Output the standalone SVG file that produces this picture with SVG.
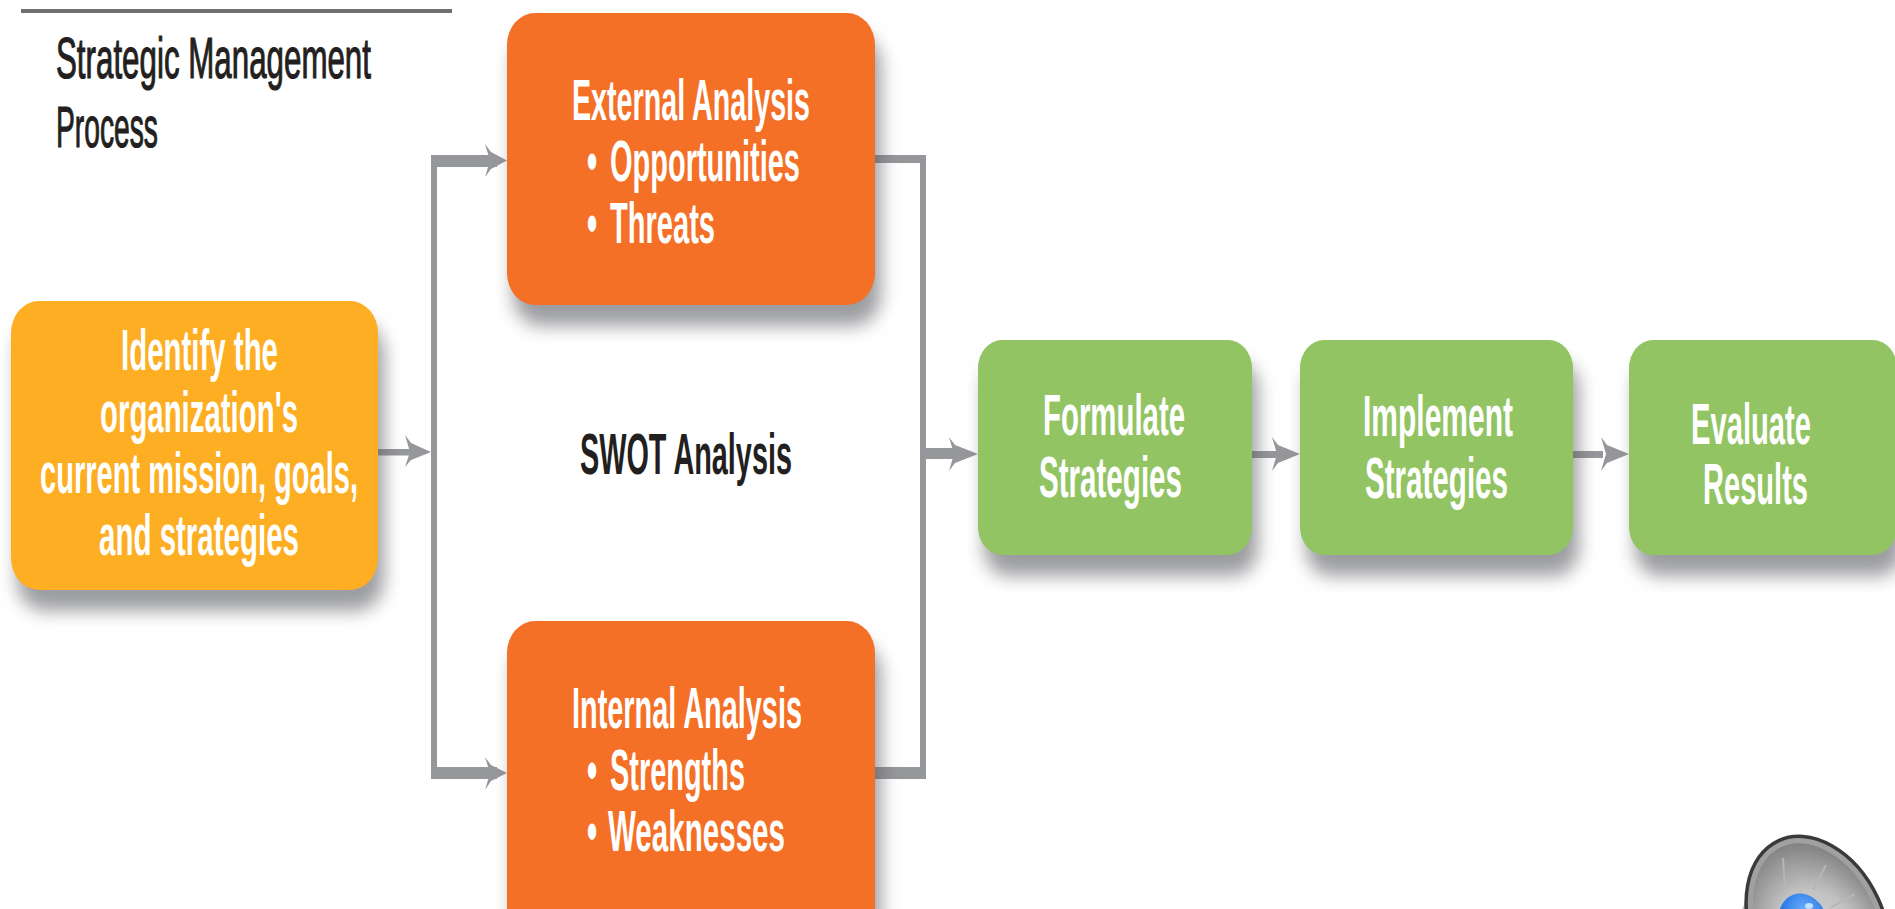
<svg xmlns="http://www.w3.org/2000/svg" width="1895" height="909" viewBox="0 0 1895 909">
<style>
text{font-family:"Liberation Sans",Arial,sans-serif;font-size:58px;transform:scale(.5,1)}
.w{fill:#fff;font-weight:700}
.k{fill:#231f20}
.t{stroke:#231f20;stroke-width:1.200px}
.c{fill:#96979b}
.o{fill:#f47027}
.y{fill:#fdae23}
.g{fill:#92c464}
.b{filter:url(#sh)}
</style>
<defs>
<filter id="sh" x="-10%" y="-10%" width="125%" height="140%" color-interpolation-filters="sRGB">
<feGaussianBlur in="SourceAlpha" stdDeviation="9" result="a"/>
<feOffset in="a" dx="6" dy="21" result="b"/>
<feFlood flood-color="#55565b" flood-opacity=".58"/>
<feComposite in2="b" operator="in" result="s"/>
<feMerge><feMergeNode in="s"/><feMergeNode in="SourceGraphic"/></feMerge>
</filter>
<radialGradient id="cone" cx=".45" cy=".62" r=".62"><stop offset="0" stop-color="#dedede"/><stop offset=".55" stop-color="#c2c2c2"/><stop offset="1" stop-color="#808080"/></radialGradient>
<radialGradient id="dome" cx=".6" cy=".35" r=".7"><stop offset="0" stop-color="#6fb0ff"/><stop offset=".6" stop-color="#2f7fe8"/><stop offset="1" stop-color="#1c5fc4"/></radialGradient>
</defs>
<rect width="1895" height="909" fill="#fff"/>
<rect x="21" y="9" width="431" height="4" fill="#707070"/>
<g id="title">
<text class="k t" x="112" y="78" textLength="630" lengthAdjust="spacingAndGlyphs">Strategic Management</text>
<text class="k t" x="112" y="147" textLength="204" lengthAdjust="spacingAndGlyphs">Process</text>
</g>
<g id="connectors" class="c">
<path d="M431 155H497V167H437V767H497V779H431Z"/>
<path d="M507 160.500L491 152L485 144L490 160.500L485 177L491 169Z"/>
<path d="M507 773L491 765L485 757L490 773L485 790L491 781Z"/>
<rect x="378" y="449" width="35" height="6.500"/>
<path d="M431 452L411 443L405 435L410 452L405 467L411 460Z"/>
<path d="M875 155H926V779H875V767H920V163H875Z"/>
<rect x="926" y="448" width="32" height="11"/>
<path d="M978 454L955 445L949 437L954 454L949 471L955 463Z"/>
<rect x="1252" y="451" width="30" height="7"/>
<path d="M1300 454L1278 445L1272 437L1277 454L1272 471L1278 463Z"/>
<rect x="1573" y="451" width="30" height="7"/>
<path d="M1629 454L1607 445L1601 437L1606 454L1601 471L1607 463Z"/>
</g>
<g id="identify">
<rect class="y b" x="11" y="301" width="367" height="289" rx="28" ry="32"/>
<text class="w" x="242" y="370" textLength="314" lengthAdjust="spacingAndGlyphs">Identify the</text>
<text class="w" x="200" y="432" textLength="396" lengthAdjust="spacingAndGlyphs">organization's</text>
<text class="w" x="80" y="493" textLength="636" lengthAdjust="spacingAndGlyphs">current mission, goals,</text>
<text class="w" x="198" y="555" textLength="400" lengthAdjust="spacingAndGlyphs">and strategies</text>
</g>
<g id="external">
<rect class="o b" x="507" y="13" width="368" height="292" rx="28" ry="32"/>
<text class="w" x="1144" y="120" textLength="476" lengthAdjust="spacingAndGlyphs">External Analysis</text>
<text class="w" y="181"><tspan x="1174">• </tspan><tspan x="1220" textLength="380" lengthAdjust="spacingAndGlyphs">Opportunities</tspan></text>
<text class="w" y="243"><tspan x="1174">• </tspan><tspan x="1220" textLength="210" lengthAdjust="spacingAndGlyphs">Threats</tspan></text>
</g>
<g id="internal">
<rect class="o b" x="507" y="621" width="368" height="320" rx="28" ry="32"/>
<text class="w" x="1144" y="728" textLength="460" lengthAdjust="spacingAndGlyphs">Internal Analysis</text>
<text class="w" y="790"><tspan x="1174">• </tspan><tspan x="1220" textLength="270" lengthAdjust="spacingAndGlyphs">Strengths</tspan></text>
<text class="w" y="851"><tspan x="1174">• </tspan><tspan x="1216" textLength="354" lengthAdjust="spacingAndGlyphs">Weaknesses</tspan></text>
</g>
<g id="swot">
<text class="k" x="1160" y="474" textLength="424" lengthAdjust="spacingAndGlyphs" style="font-weight:700">SWOT Analysis</text>
</g>
<g id="formulate">
<rect class="g b" x="978" y="340" width="274" height="215" rx="24" ry="28"/>
<text class="w" x="2086" y="435" textLength="284" lengthAdjust="spacingAndGlyphs">Formulate</text>
<text class="w" x="2078" y="497" textLength="286" lengthAdjust="spacingAndGlyphs">Strategies</text>
</g>
<g id="implement">
<rect class="g b" x="1300" y="340" width="273" height="215" rx="24" ry="28"/>
<text class="w" x="2726" y="436" textLength="300" lengthAdjust="spacingAndGlyphs">Implement</text>
<text class="w" x="2730" y="498" textLength="286" lengthAdjust="spacingAndGlyphs">Strategies</text>
</g>
<g id="evaluate">
<rect class="g b" x="1629" y="340" width="268" height="215" rx="24" ry="28"/>
<text class="w" x="3382" y="444" textLength="240" lengthAdjust="spacingAndGlyphs">Evaluate</text>
<text class="w" x="3406" y="504" textLength="210" lengthAdjust="spacingAndGlyphs">Results</text>
</g>
<g id="speaker">
<path d="M1772 852C1758 870 1752 890 1742 909H1790L1790 860Z" fill="#c9c9c9"/>
<ellipse cx="1818" cy="926" rx="62" ry="90" transform="rotate(-25 1818 926)" fill="url(#cone)" stroke="#a0a0a0" stroke-width="6"/>
<ellipse cx="1818" cy="926" rx="66" ry="94" transform="rotate(-25 1818 926)" fill="none" stroke="#3a3a3a" stroke-width="3.500"/>
<path d="M1785 888L1783 858M1813 890L1826 865M1830 908L1855 894" stroke="#b6b6b6" stroke-width="2" fill="none"/>
<ellipse cx="1803" cy="922" rx="24" ry="29" transform="rotate(-20 1803 922)" fill="url(#dome)"/>
<ellipse cx="1809" cy="906" rx="4" ry="3" fill="#bfe0ff"/>
</g>
</svg>
